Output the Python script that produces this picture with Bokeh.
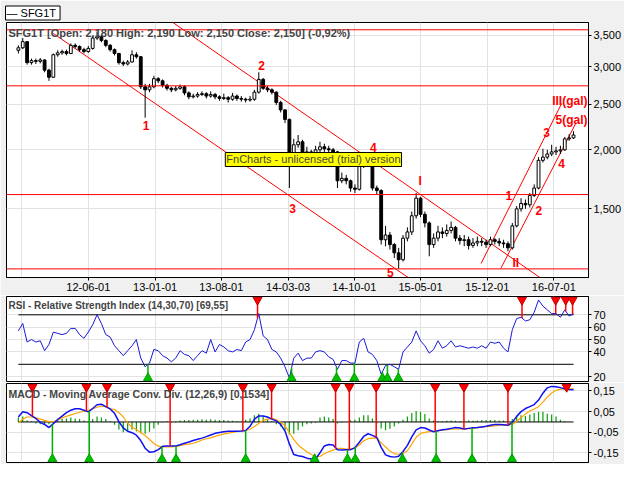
import numpy as np
import pandas as pd
from bokeh.plotting import figure
from bokeh.layouts import column
from bokeh.models import (Range1d, FixedTicker, Label, Span, Grid, Title,
                          CustomJSTickFormatter, DatetimeTickFormatter,
                          NumeralTickFormatter)
from bokeh.embed import file_html
from bokeh.resources import INLINE

# ---------------- data ----------------
bar_start = "2011-10-21"      # first bar; bars every 14 days
bar_step = "14D"

open_ = [3250,3290,3390,3060,3090,3080,3100,2950,2850,3180,3210,3230,3200,3330,3310,3260,3230,3280,3450,3470,
         3410,3330,3260,3200,3060,3040,3070,3180,3150,2720,2680,2720,2830,2800,2740,2700,2680,2700,2720,2640,
         2590,2600,2620,2630,2600,2620,2590,2570,2580,2560,2600,2570,2560,2550,2560,2650,2820,2700,2680,2650,
         2520,2430,2320,1950,2050,2080,1950,1980,1940,2000,2030,2010,2000,1980,1720,1740,1720,1660,1650,1850,
         1920,1900,1660,1640,1290,1320,1260,1210,1170,1300,1340,1450,1580,1460,1400,1260,1300,1340,1330,1350,
         1370,1300,1285,1290,1255,1270,1280,1275,1260,1290,1280,1270,1265,1240,1380,1500,1540,1530,1600,1660,
         1900,1930,1960,1980,1990,2000,2110,2120]
close = [3290,3390,3060,3090,3080,3100,2950,2850,3180,3210,3230,3200,3330,3310,3260,3230,3280,3450,3470,3410,
         3330,3260,3200,3060,3040,3070,3180,3150,2720,2680,2720,2830,2800,2740,2700,2680,2700,2720,2640,2590,
         2600,2620,2630,2600,2620,2590,2570,2580,2560,2600,2570,2560,2550,2560,2650,2820,2700,2680,2650,2520,
         2430,2320,1950,2050,2080,1950,1980,1940,2000,2030,2010,2000,1980,1720,1740,1720,1660,1650,1850,1920,
         1900,1660,1640,1290,1320,1260,1210,1170,1300,1340,1450,1580,1460,1400,1260,1300,1340,1330,1350,1370,
         1300,1285,1290,1255,1270,1280,1275,1260,1290,1280,1270,1265,1240,1380,1500,1540,1530,1600,1660,1900,
         1930,1960,1980,1990,2000,2110,2120,2150]
high = [3330,3450,3400,3120,3120,3130,3110,2970,3200,3250,3260,3260,3360,3360,3330,3290,3320,3480,3560,3500,
        3430,3350,3280,3210,3090,3100,3250,3220,3160,2760,2760,2870,2850,2820,2760,2720,2730,2750,2740,2660,
        2630,2650,2660,2650,2660,2640,2610,2630,2600,2640,2620,2600,2580,2600,2680,2920,2840,2730,2700,2660,
        2540,2440,2330,2110,2150,2100,2030,2000,2040,2080,2060,2040,2020,1990,1790,1770,1730,1690,1880,1960,
        1940,1910,1680,1650,1380,1340,1270,1240,1320,1370,1480,1620,1590,1480,1410,1330,1380,1370,1390,1410,
        1380,1320,1320,1310,1300,1310,1300,1290,1310,1300,1300,1290,1280,1400,1520,1580,1570,1620,1690,1930,
        2010,2000,2050,2030,2040,2130,2160,2190]
low = [3200,3270,3030,3030,3040,3050,2920,2800,2840,3150,3180,3170,3190,3280,3230,3200,3210,3260,3420,3380,
       3300,3230,3170,3030,3010,3020,3060,3120,2690,2340,2650,2700,2770,2710,2670,2650,2660,2680,2610,2560,
       2570,2580,2600,2570,2580,2560,2540,2550,2520,2540,2540,2530,2520,2530,2540,2630,2680,2650,2620,2490,
       2400,2280,1660,1930,2020,1920,1900,1910,1920,1980,1980,1970,1950,1660,1700,1690,1630,1620,1640,1830,
       1860,1640,1610,1260,1250,1230,1180,1120,1160,1280,1320,1430,1440,1370,1190,1240,1280,1300,1310,1330,
       1280,1260,1250,1230,1240,1250,1250,1240,1250,1260,1250,1240,1220,1230,1370,1480,1500,1510,1590,1650,
       1880,1910,1940,1950,1960,1990,2090,2110]

rsi = [57,63,48,50,48,49,41,46,56,55,54,55,59,59,54,51,56,62,70,63,
       54,52,45,41,37,41,45,50,35,28,31,42,41,37,35,32,35,41,38,37,
       33,37,41,39,50,40,46,44,41,40,42,41,48,50,58,71,53,50,42,40,
       35,28,19,35,39,33,35,35,40,41,40,36,34,26,33,33,31,31,48,51,
       40,38,33,22,29,30,28,26,40,44,48,57,49,45,39,42,49,43,45,49,
       44,45,44,43,44,43,45,43,48,47,48,43,40,58,67,68,65,66,72,82,
       77,74,71,71,68,74,69,71]
rsi_upper = 70
rsi_lower = 30

macd = [0.024,0.049,0.045,0.031,0.017,-0.002,-0.012,-0.027,-0.008,0.012,
        0.028,0.045,0.057,0.064,0.064,0.057,0.049,0.065,0.083,0.086,
        0.074,0.063,0.042,0.002,-0.029,-0.045,-0.052,-0.064,-0.090,-0.127,
        -0.146,-0.144,-0.134,-0.118,-0.116,-0.116,-0.116,-0.110,-0.103,-0.097,
        -0.090,-0.084,-0.078,-0.071,-0.063,-0.055,-0.051,-0.047,-0.045,-0.045,
        -0.045,-0.044,-0.041,-0.021,0.014,0.029,0.029,0.024,0.014,0.005,
        -0.012,-0.044,-0.106,-0.157,-0.163,-0.167,-0.175,-0.179,-0.179,-0.149,
        -0.116,-0.109,-0.111,-0.134,-0.136,-0.134,-0.134,-0.124,-0.098,-0.070,
        -0.057,-0.065,-0.075,-0.123,-0.159,-0.167,-0.170,-0.166,-0.143,-0.113,
        -0.072,-0.038,-0.027,-0.029,-0.039,-0.047,-0.042,-0.038,-0.035,-0.031,
        -0.027,-0.029,-0.034,-0.031,-0.028,-0.027,-0.024,-0.021,-0.016,-0.012,
        -0.012,-0.014,-0.016,-0.002,0.027,0.050,0.065,0.074,0.084,0.106,
        0.139,0.165,0.172,0.170,0.166,0.160,0.157,0.156]
signal = [-0.005,0.014,0.024,0.024,0.020,0.014,0.008,0.002,0.001,0.009,
          0.020,0.027,0.034,0.041,0.047,0.052,0.055,0.064,0.071,0.077,
          0.074,0.063,0.060,0.045,0.024,-0.005,-0.024,-0.036,-0.051,-0.065,
          -0.085,-0.104,-0.117,-0.120,-0.120,-0.120,-0.118,-0.114,-0.110,-0.107,
          -0.103,-0.096,-0.087,-0.081,-0.077,-0.070,-0.064,-0.058,-0.054,-0.050,
          -0.045,-0.044,-0.041,-0.035,-0.022,-0.008,0.008,0.014,0.017,0.011,
          -0.001,-0.019,-0.052,-0.084,-0.111,-0.128,-0.144,-0.157,-0.167,-0.167,
          -0.154,-0.144,-0.136,-0.128,-0.128,-0.131,-0.131,-0.127,-0.110,-0.091,
          -0.081,-0.078,-0.077,-0.101,-0.121,-0.140,-0.153,-0.156,-0.153,-0.139,
          -0.107,-0.074,-0.055,-0.050,-0.047,-0.045,-0.042,-0.039,-0.037,-0.035,
          -0.034,-0.034,-0.034,-0.032,-0.031,-0.028,-0.025,-0.022,-0.021,-0.019,
          -0.016,-0.016,-0.016,-0.012,0.002,0.022,0.038,0.053,0.063,0.074,
          0.096,0.120,0.140,0.153,0.159,0.160,0.160,0.160]
hist = [0.022,0.026,0.007,0.004,-0.007,-0.011,-0.011,-0.011,-0.004,0.007,
        0.014,0.017,0.022,0.017,0.014,0.007,0.004,0.014,0.026,0.022,
        0.014,0.003,-0.014,-0.036,-0.050,-0.043,-0.036,-0.046,-0.055,-0.057,
        -0.047,-0.032,-0.014,-0.003,0.003,-0.003,0.004,0.007,0.009,0.010,
        0.011,0.011,0.013,0.011,0.013,0.011,0.010,0.009,0.007,0.006,
        0.004,0.003,0.011,0.017,0.032,0.040,0.026,0.014,0.004,-0.011,
        -0.022,-0.040,-0.060,-0.057,-0.040,-0.022,-0.011,-0.007,-0.004,0.022,
        0.026,0.022,0.014,-0.007,-0.003,0.000,0.007,0.011,0.022,0.032,
        0.032,0.017,-0.007,-0.032,-0.040,-0.033,-0.022,-0.007,0.011,0.026,
        0.043,0.053,0.050,0.039,0.017,0.007,0.004,0.004,0.006,0.007,
        0.006,0.004,0.006,0.007,0.006,0.007,0.009,0.009,0.010,0.009,
        0.007,0.007,0.004,0.014,0.026,0.032,0.029,0.036,0.043,0.050,
        0.050,0.040,0.036,0.026,0.011,0.004,0.000,0.000]

rsi_sell = ["2013-11-25", "2016-03-21", "2016-07-07", "2016-08-08", "2016-08-30"]
rsi_buy = ["2012-12-09", "2014-03-14", "2014-08-05", "2014-10-01", "2014-12-30", "2015-01-15", "2015-02-19"]
macd_sell = ["2011-12-05", "2012-05-26", "2012-07-31", "2013-02-18", "2013-10-09", "2014-01-09", "2014-08-02",
             "2014-09-15", "2014-12-10", "2015-06-17", "2015-09-17", "2016-02-05", "2016-08-11"]
macd_buy = ["2012-02-07", "2012-06-04", "2013-01-23", "2013-03-09", "2013-10-18", "2014-05-27", "2014-09-09",
            "2014-10-04", "2015-03-04", "2015-06-20", "2015-10-13", "2016-02-18"]

# horizontal support / resistance levels
levels = [3592, 2733, 1608, 1119]
# trend channel lines
ch_d0 = ["2012-02-10", "2013-02-27", "2015-11-11", "2016-01-13"]
ch_p0 = [3528, 3722, 1149, 1121]
ch_d1 = ["2015-06-14", "2016-08-08", "2016-07-26", "2016-09-09"]
ch_p1 = [983, 983, 2507, 2274]
# Elliott wave labels
wave_text = ["1", "2", "3", "4", "5", "I", "II", "1", "2", "3", "4"]
wave_date = ["2012-12-03", "2013-12-08", "2014-03-17", "2014-12-01", "2015-01-24", "2015-04-30",
             "2016-03-01", "2016-02-08", "2016-05-14", "2016-06-08", "2016-07-26"]
wave_price = [2252, 3018, 1502, 2023, 1099, 1722, 1154, 1601, 1488, 2177, 1871]
# labels at the ends of the rising channel (right-aligned so they stay inside the frame)
gal_text = ["III(gal)", "5(gal)"]
gal_price = [2532, 2318]

date_ticks = ["2012-06-01", "2013-01-01", "2013-08-01", "2014-03-03", "2014-10-01",
              "2015-05-01", "2015-12-01", "2016-07-01"]
grid_dates = ["2011-11-01"] + date_ticks
price_ticks = [1500, 2000, 2500, 3000, 3500]
rsi_ticks = [20, 40, 50, 60, 70]
macd_ticks = [-0.15, -0.05, 0.05, 0.15]

legend_text = "\u2014  SFG1T"
title_main = "SFG1T [Open: 2,180  High: 2,190  Low: 2,150  Close: 2,150] (-0,92%)"
title_rsi = "RSI - Relative Strength Index (14,30,70) [69,55]"
title_macd = "MACD - Moving Average Conv. Div. (12,26,9) [0,1534]"

# ---------------- helpers / styles ----------------
def ms(d):
    return pd.Timestamp(d).value / 1e6

FONT = "Liberation Sans"
GRID = "#E2E2E2"
BG = "#F0F0F0"
DAY = 86400000.0
W = 624
LEFT, RIGHT = 6, 34

dates = pd.date_range(bar_start, periods=len(close), freq=bar_step)
xs = np.array([d.value / 1e6 for d in dates])
x_start, x_end = ms("2011-09-13"), ms("2016-10-20")
xr = Range1d(x_start, x_end)
grid_ms = [ms(d) for d in grid_dates]


def style(p, ticks):
    p.outline_line_color = "black"
    p.outline_line_alpha = 1.0
    p.border_fill_color = BG
    p.background_fill_color = "white"
    for ax in p.axis:
        ax.axis_line_color = "black"
        ax.major_tick_line_color = "black"
        ax.major_tick_out = 3
        ax.major_tick_in = 0
        ax.minor_tick_line_color = None
        ax.major_label_text_font = FONT
        ax.major_label_text_font_size = "11px"
        ax.major_label_text_color = "black"
        ax.major_label_standoff = 2
    p.ygrid.ticker = FixedTicker(ticks=ticks)
    p.ygrid.grid_line_color = GRID
    p.xgrid.visible = False
    p.add_layout(Grid(dimension=0, ticker=FixedTicker(ticks=grid_ms), grid_line_color=GRID))


# ---------------- main price panel ----------------
legend_title = Title(text=legend_text, align="left", offset=-1, standoff=5, text_font=FONT,
                     text_font_size="11px", text_font_style="normal", text_color="black",
                     background_fill_color="white", border_line_color="black", padding=1)
p1 = figure(width=W, height=295, x_axis_type="datetime", y_axis_type="log",
            y_axis_location="right", x_range=xr, y_range=Range1d(1073, 3722),
            output_backend="svg", toolbar_location=None, title=legend_title,
            min_border_left=LEFT, min_border_right=RIGHT, min_border_top=22, min_border_bottom=18)
style(p1, price_ticks)
p1.yaxis.ticker = FixedTicker(ticks=price_ticks)
p1.yaxis.formatter = NumeralTickFormatter(format="0,0")
p1.xaxis.ticker = FixedTicker(ticks=[ms(d) for d in date_ticks])
fmt = "%y-%m-%d"
p1.xaxis.formatter = DatetimeTickFormatter(microseconds=fmt, milliseconds=fmt, seconds=fmt, minsec=fmt,
                                           minutes=fmt, hourmin=fmt, hours=fmt, days=fmt, months=fmt,
                                           years=fmt)

for lv in levels:
    p1.add_layout(Span(location=lv, dimension="width", line_color="red", line_width=1))

p1.segment(x0=[ms(d) for d in ch_d0], y0=ch_p0, x1=[ms(d) for d in ch_d1], y1=ch_p1,
           line_color="red", line_width=1)

o = np.array(open_, float); c = np.array(close, float)
inc = c >= o
p1.segment(x0=xs, y0=high, x1=xs, y1=low, line_color="black", line_width=1)
bw = 9 * DAY
p1.vbar(x=xs[inc], width=bw, top=c[inc], bottom=o[inc], fill_color="white", line_color="black", line_width=1)
p1.vbar(x=xs[~inc], width=bw, top=o[~inc], bottom=c[~inc], fill_color="black", line_color="black", line_width=1)

for t, d, pr in zip(wave_text, wave_date, wave_price):
    p1.add_layout(Label(x=ms(d), y=pr, text=t, text_color="red", text_font=FONT, text_font_style="bold",
                        text_font_size="12px", text_align="center", text_baseline="middle"))
for t, pr in zip(gal_text, gal_price):
    p1.add_layout(Label(x=x_end, y=pr, x_offset=-1, text=t, text_color="red", text_font=FONT,
                        text_font_style="bold", text_font_size="12px", text_align="right",
                        text_baseline="middle"))

p1.add_layout(Label(x=x_start, y=3722, x_offset=2, y_offset=-4, text=title_main, text_font=FONT,
                    text_font_style="bold", text_font_size="11px", text_baseline="top"))
p1.add_layout(Label(x=ms("2014-05-23"), y=1908, text="FnCharts - unlicensed (trial) version",
                    text_font=FONT, text_font_size="11px", text_align="center", text_baseline="middle",
                    background_fill_color="yellow", border_line_color="black", padding=1))

# ---------------- RSI panel ----------------
rsi_lo, rsi_hi = 16.1, 84.8
p2 = figure(width=W, height=87, x_range=xr, y_range=Range1d(rsi_lo, rsi_hi), x_axis_location=None,
            y_axis_location="right", output_backend="svg", toolbar_location=None,
            min_border_left=LEFT, min_border_right=RIGHT, min_border_top=1, min_border_bottom=1)
style(p2, rsi_ticks)
p2.yaxis.ticker = FixedTicker(ticks=rsi_ticks)
p2.line([xs[0], xs[-1]], [rsi_upper, rsi_upper], line_color="black", line_width=1)
p2.line([xs[0], xs[-1]], [rsi_lower, rsi_lower], line_color="black", line_width=1)
p2.line(xs, rsi, line_color="#1818D8", line_width=1)

rs_x = [ms(d) for d in rsi_sell]; rb_x = [ms(d) for d in rsi_buy]
rs_v = np.interp(rs_x, xs, rsi); rb_v = np.interp(rb_x, xs, rsi)
p2.segment(x0=rs_x, y0=[rsi_hi] * len(rs_x), x1=rs_x, y1=rs_v, line_color="red", line_width=1.5)
p2.segment(x0=rb_x, y0=[rsi_lo] * len(rb_x), x1=rb_x, y1=rb_v, line_color="#00B000", line_width=1.5)
p2.scatter(rs_x, [rsi_hi - 2.8] * len(rs_x), marker="inverted_triangle", size=9, fill_color="red",
           line_color="#C00000")
p2.scatter(rb_x, [rsi_lo + 2.8] * len(rb_x), marker="triangle", size=9, fill_color="#00C000",
           line_color="#00A000")
p2.add_layout(Label(x=x_start, y=rsi_hi, x_offset=2, y_offset=-3, text=title_rsi, text_font=FONT,
                    text_font_style="bold", text_font_size="10px", text_baseline="top"))

# ---------------- MACD panel ----------------
m_lo, m_hi = -0.196, 0.186
p3 = figure(width=W, height=82, x_range=xr, y_range=Range1d(m_lo, m_hi), x_axis_location=None,
            y_axis_location="right", output_backend="svg", toolbar_location=None,
            min_border_left=LEFT, min_border_right=RIGHT, min_border_top=1, min_border_bottom=2)
style(p3, macd_ticks)
p3.yaxis.ticker = FixedTicker(ticks=macd_ticks)
p3.yaxis.formatter = CustomJSTickFormatter(code="return tick.toFixed(2).replace('.', ',');")
p3.vbar(x=xs, width=4 * DAY, top=hist, bottom=0, fill_color="#10A010", line_color=None)
p3.line([xs[0], xs[-1]], [0, 0], line_color="black", line_width=1)
p3.line(xs, signal, line_color="#FFA500", line_width=1.2)
p3.line(xs, macd, line_color="#1010F0", line_width=1.5)

ms_x = [ms(d) for d in macd_sell]; mb_x = [ms(d) for d in macd_buy]
ms_v = np.interp(ms_x, xs, macd); mb_v = np.interp(mb_x, xs, macd)
p3.segment(x0=ms_x, y0=[m_hi] * len(ms_x), x1=ms_x, y1=ms_v, line_color="red", line_width=1.5)
p3.segment(x0=mb_x, y0=[m_lo] * len(mb_x), x1=mb_x, y1=mb_v, line_color="#00B000", line_width=1.5)
p3.scatter(ms_x, [m_hi - 0.017] * len(ms_x), marker="inverted_triangle", size=9, fill_color="red",
           line_color="#C00000")
p3.scatter(mb_x, [m_lo + 0.017] * len(mb_x), marker="triangle", size=9, fill_color="#00C000",
           line_color="#00A000")
p3.add_layout(Label(x=x_start, y=m_hi, x_offset=2, y_offset=-4, text=title_macd, text_font=FONT,
                    text_font_style="bold", text_font_size="10.5px", text_baseline="top"))

layout = column(p1, p2, p3, spacing=0)
open("out.html", "w").write(file_html(layout, INLINE))
